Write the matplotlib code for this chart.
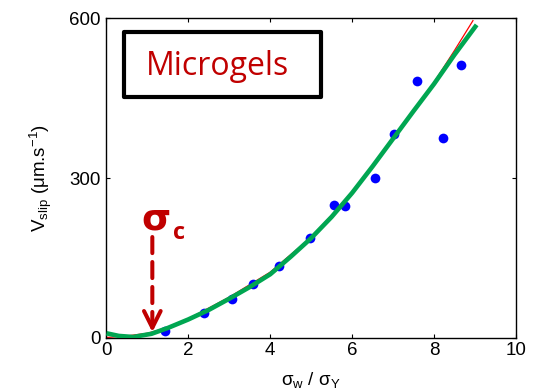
import matplotlib
matplotlib.use("Agg")
import matplotlib.pyplot as plt
from matplotlib.patches import Rectangle

plt.rcParams['font.family'] = ['Liberation Sans', 'DejaVu Sans']
plt.rcParams['mathtext.fontset'] = 'custom'
plt.rcParams['mathtext.rm'] = 'Liberation Sans'
plt.rcParams['mathtext.it'] = 'Liberation Sans:italic'

# measured slip velocities
sigma_ratio = [1.44, 2.39, 3.06, 3.58, 4.22, 4.97, 5.56, 5.82, 6.55, 7.03, 7.58, 8.21, 8.65]
v_slip = [13, 47, 73, 100, 135, 187, 249, 248, 300, 383, 482, 375, 512]

# fitted curve (thin red)
fit_x = [0, 0.5, 1.0, 1.5, 2.0, 3.0, 4.0, 4.5, 5.0, 6.0, 7.0, 8.0, 8.5, 8.95]
fit_y = [0, 3, 8, 19, 35, 76, 123, 156, 188, 272, 374, 480, 540, 596]

# guide curve (thick green)
guide_x = [0, 0.3, 0.65, 1.1, 1.5, 2.0, 2.5, 3.0, 3.5, 4.0, 4.5, 5.0, 5.5,
           6.0, 6.5, 7.0, 7.5, 8.0, 8.5, 9.04]
guide_y = [8, 3, 1, 7, 18, 34, 52, 73, 95, 119, 152, 187, 227,
           272, 322, 374, 426, 477, 532, 588]

sigma_c = 1.12
dark_red = '#C00000'

fig = plt.figure(figsize=(5.35, 3.91), dpi=100)
ax = fig.add_axes([0.199, 0.1368, 0.7654, 0.8159])

ax.plot(fit_x, fit_y, color='red', lw=0.9, zorder=2)
ax.plot(sigma_ratio, v_slip, 'o', color='#0000FF', ms=7, mec='none', zorder=3)
ax.plot(guide_x, guide_y, color='#00A651', lw=3.3, solid_capstyle='butt', zorder=4)

ax.set_xlim(0, 10)
ax.set_ylim(0, 600)
ax.set_xticks([0, 2, 4, 6, 8, 10])
ax.set_yticks([0, 300, 600])
ax.tick_params(direction='in', top=True, right=True, length=3, width=0.8,
               labelsize=13.5)
ax.tick_params(axis='x', pad=3.5)
ax.tick_params(axis='y', pad=4)
for sp in ax.spines.values():
    sp.set_linewidth(1.0)

ax.set_xlabel('σ$_{\\rm w}$ / σ$_{\\rm Y}$', fontsize=13.5, labelpad=8)
ax.set_ylabel('V$_{\\rm slip}$ (μm.s$^{-1}$)', fontsize=13.5, labelpad=11)

# label box
box = Rectangle((0.2312, 0.7512), 0.3693, 0.167, transform=fig.transFigure,
                fill=True, facecolor='white', edgecolor='black', lw=3,
                joinstyle='round', zorder=5)
fig.patches.append(box)
fig.text(0.2729, 0.808, 'Microgels', color=dark_red,
         fontsize=23, family='Open Sans', va='baseline', zorder=6)

# sigma_c marker with dashed arrow
ax.annotate('', xy=(sigma_c, 25), xytext=(sigma_c, 189),
            arrowprops=dict(arrowstyle='-', color=dark_red, lw=2.9,
                            linestyle=(0, (4, 2.2)), shrinkA=0, shrinkB=0),
            zorder=6)
ax.annotate('', xy=(sigma_c, 10), xytext=(sigma_c, 30),
            arrowprops=dict(arrowstyle='->', color=dark_red, lw=2.9,
                            mutation_scale=30, shrinkA=0, shrinkB=0),
            zorder=6)
ax.text(sigma_c + 0.1, 222, 'σ', color=dark_red, fontsize=27, fontweight='bold',
        family='DejaVu Sans', ha='center', va='center', zorder=6)
ax.text(sigma_c + 0.65, 196, 'c', color=dark_red, fontsize=17, fontweight='bold',
        family='Open Sans', ha='center', va='center', zorder=6)

fig.savefig('out.png', dpi=100)
